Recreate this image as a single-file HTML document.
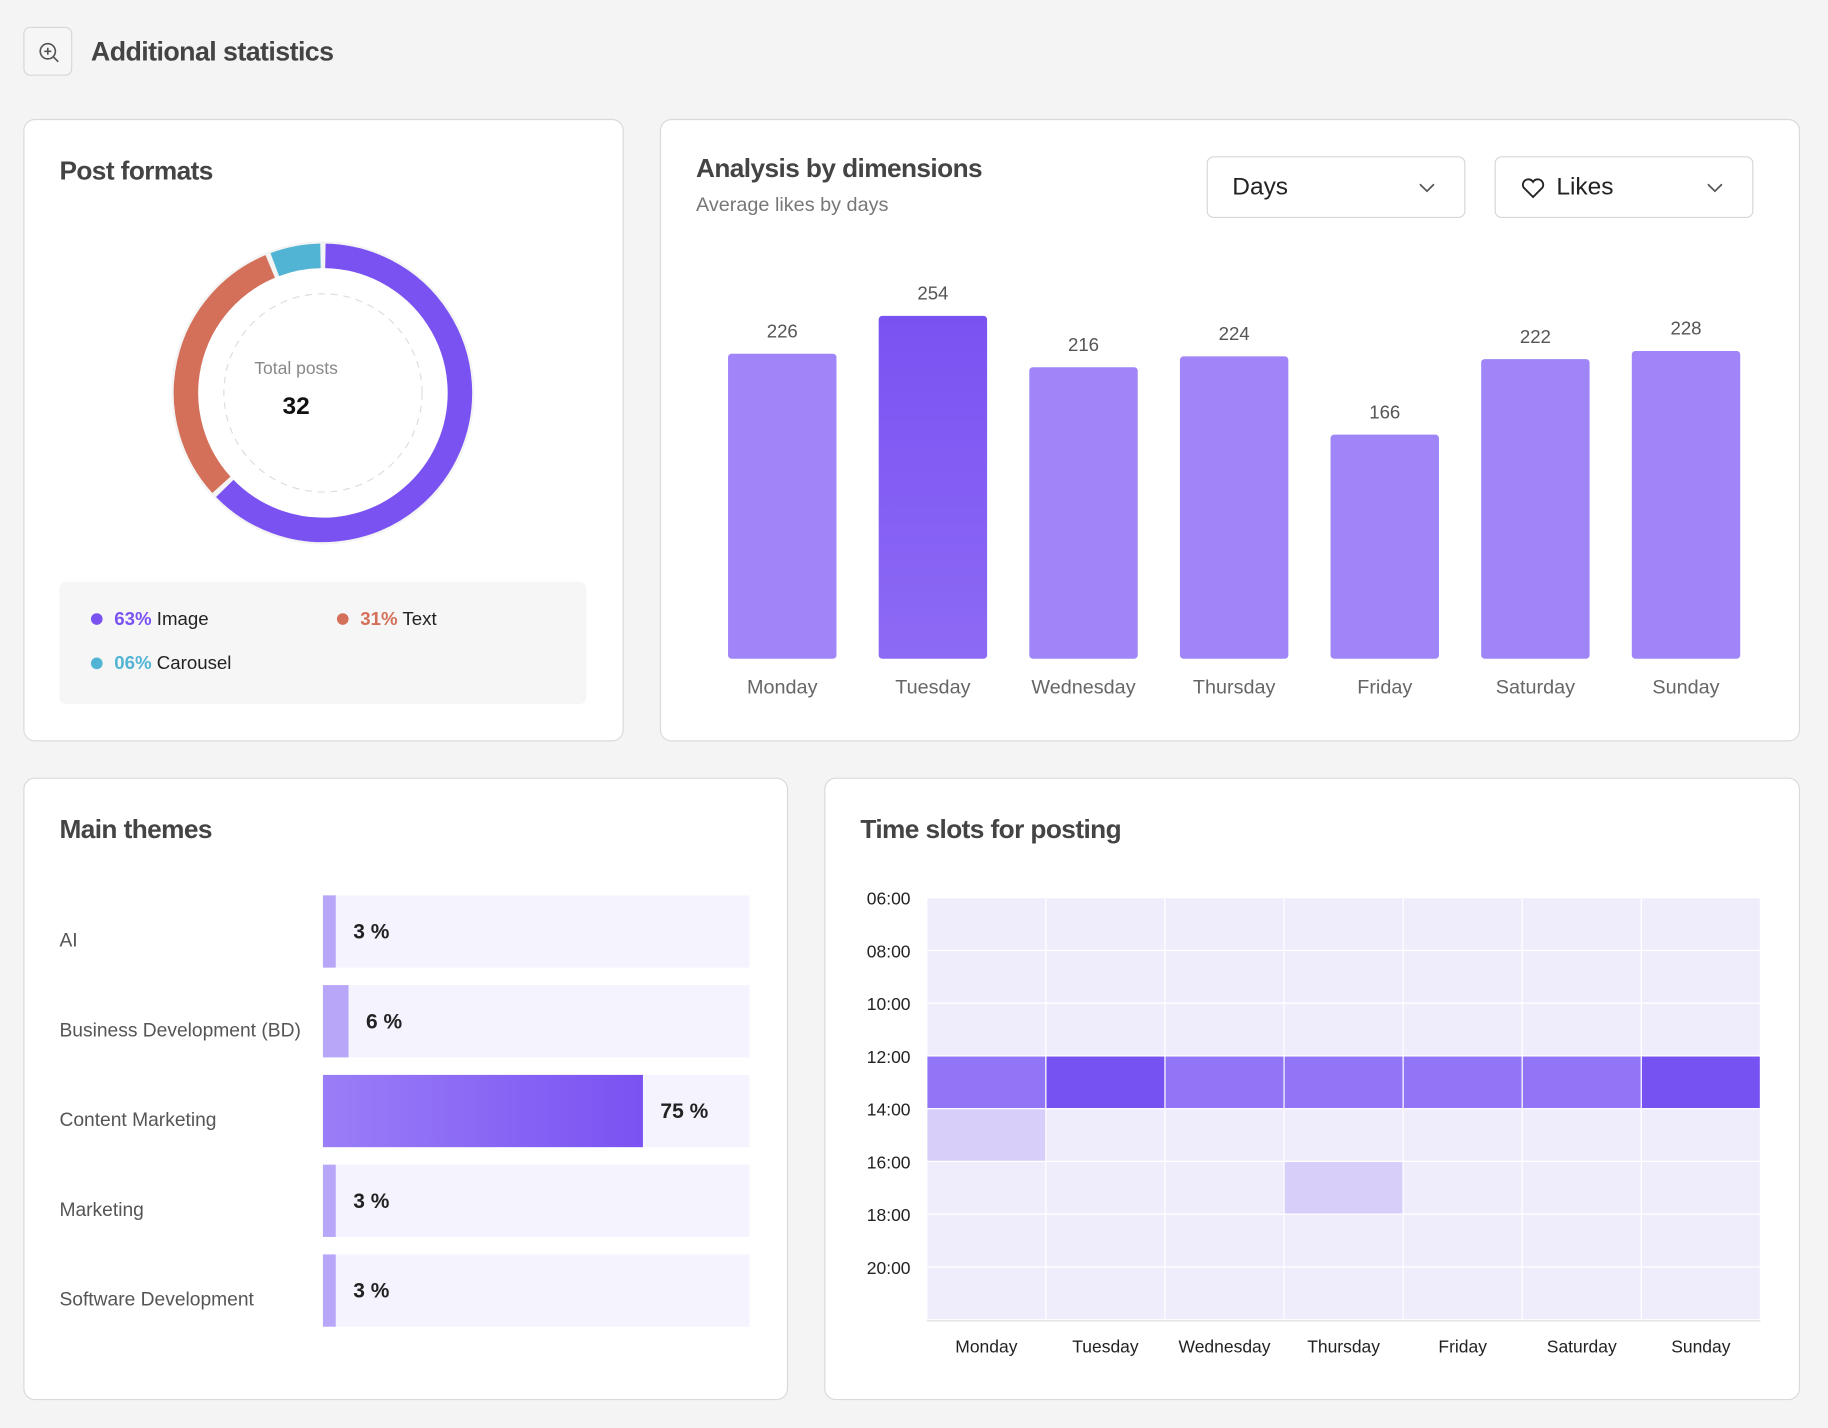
<!DOCTYPE html>
<html><head><meta charset="utf-8"><style>
html,body{margin:0;padding:0;width:1828px;height:1428px;overflow:hidden;background:#f3f4f3;font-family:"Liberation Sans",sans-serif;}
#root{position:absolute;left:0;top:0;width:1568px;height:1225px;transform:scale(1.16582);transform-origin:0 0;}
.card{position:absolute;background:#fff;border:1px solid #d9dad9;border-radius:10px;box-sizing:border-box;}
.h{position:absolute;font-weight:bold;font-size:22.5px;color:#444;letter-spacing:-0.5px;}
svg{position:absolute;left:0;top:0;}
.dd{position:absolute;border:1px solid #d6d6d6;border-radius:6px;box-sizing:border-box;font-size:21px;color:#222;}
</style></head><body>
<div id="root">
<div style="position:absolute;left:20px;top:23px;width:42px;height:42px;border:1px solid #d6d6d6;border-radius:6px;box-sizing:border-box;background:#f6f6f6">
<svg width="42" height="42" viewBox="0 0 42 42"><circle cx="20" cy="20" r="6.5" fill="none" stroke="#555" stroke-width="1.4"/><path d="M20 17v6M17 20h6M25 25l4 4" stroke="#555" stroke-width="1.4"/></svg></div>
<div class="h" style="left:78px;top:31px;font-size:23px">Additional statistics</div>

<div class="card" style="left:20px;top:102px;width:515px;height:534px"></div>
<div class="h" style="left:51px;top:134px">Post formats</div>
<svg id="donut" width="1568" height="1225"></svg>
<div style="position:absolute;left:204px;top:308px;width:100px;text-align:center;font-size:15px;color:#888">Total posts</div>
<div style="position:absolute;left:204px;top:337px;width:100px;text-align:center;font-size:21px;font-weight:bold;color:#111">32</div>
<div style="position:absolute;left:51px;top:499px;width:452px;height:105px;background:#f6f6f6;border-radius:6px;font-size:16px;color:#222">
<div style="position:absolute;left:27px;top:24px"><span style="display:inline-block;width:10px;height:10px;border-radius:5px;background:#7b52f2;margin-right:10px"></span><b style="color:#7b52f2;font-weight:bold">63%</b> Image</div>
<div style="position:absolute;left:238px;top:24px"><span style="display:inline-block;width:10px;height:10px;border-radius:5px;background:#d4705a;margin-right:10px"></span><b style="color:#d4705a">31%</b> Text</div>
<div style="position:absolute;left:27px;top:62px"><span style="display:inline-block;width:10px;height:10px;border-radius:5px;background:#52b4d4;margin-right:10px"></span><b style="color:#52b4d4">06%</b> Carousel</div>
</div>

<div class="card" style="left:566px;top:102px;width:978px;height:534px"></div>
<div class="h" style="left:597px;top:132px">Analysis by dimensions</div>
<div style="position:absolute;left:597px;top:166px;font-size:17px;color:#777">Average likes by days</div>
<div class="dd" style="left:1035px;top:134px;width:222px;height:53px"><span style="position:absolute;left:21px;top:14px">Days</span><svg width="222" height="53"><path d="M182 23l6 6 6-6" fill="none" stroke="#555" stroke-width="1.5"/></svg></div>
<div class="dd" style="left:1282px;top:134px;width:222px;height:53px"><svg width="222" height="53"><path d="M32 34l-8-8a4.5 4.5 0 0 1 8-5a4.5 4.5 0 0 1 8 5z" fill="none" stroke="#222" stroke-width="1.6"/><path d="M182 23l6 6 6-6" fill="none" stroke="#555" stroke-width="1.5"/></svg><span style="position:absolute;left:52px;top:14px">Likes</span></div>
<svg id="bars" width="1568" height="1225"></svg>

<div class="card" style="left:20px;top:667px;width:656px;height:534px"></div>
<div class="h" style="left:51px;top:699px">Main themes</div>
<svg id="themes" width="1568" height="1225"></svg>

<div class="card" style="left:707px;top:667px;width:837px;height:534px"></div>
<div class="h" style="left:738px;top:699px">Time slots for posting</div>
<svg id="heat" width="1568" height="1225"></svg>
</div>
<script>
const NS="http://www.w3.org/2000/svg";
function mk(p,t,a){const e=document.createElementNS(NS,t);for(const k in a)e.setAttribute(k,a[k]);p.appendChild(e);return e;}

// donut data
const formatNames=["Image","Text","Carousel"];
const formatValues=[63,31,6];
const formatColors=["#7b52f2","#d4705a","#52b4d4"];
// bar data
const days=["Monday","Tuesday","Wednesday","Thursday","Friday","Saturday","Sunday"];
const likes=[226,254,216,224,166,222,228];
// themes data
const themes=["AI","Business Development (BD)","Content Marketing","Marketing","Software Development"];
const themeValues=[3,6,75,3,3];
// heatmap data
const hours=["06:00","08:00","10:00","12:00","14:00","16:00","18:00","20:00"];
const heatValues=[
[0,0,0,0,0,0,0],
[0,0,0,0,0,0,0],
[0,0,0,0,0,0,0],
[2,3,2,2,2,2,3],
[1,0,0,0,0,0,0],
[0,0,0,1,0,0,0],
[0,0,0,0,0,0,0],
[0,0,0,0,0,0,0]];

// donut
(function(){
const s=document.getElementById('donut');
const cx=277,cy=337,r=117.5,w=21;
mk(s,'circle',{cx,cy,r:130,fill:'#f3f4f3'});
mk(s,'circle',{cx,cy,r:107,fill:'#fff'});
mk(s,'circle',{cx,cy,r:85,fill:'none',stroke:'#ddd','stroke-dasharray':'6 5'});
const tot=formatValues.reduce((a,b)=>a+b,0);
let a0=0;
formatValues.forEach((v,i)=>{
 const a1=a0+v/tot*2*Math.PI, g=0.018;
 const s0=a0+g,s1=a1-g;
 const x0=cx+r*Math.sin(s0),y0=cy-r*Math.cos(s0),x1=cx+r*Math.sin(s1),y1=cy-r*Math.cos(s1);
 const p=mk(s,'path',{d:`M${x0} ${y0}A${r} ${r} 0 ${s1-s0>Math.PI?1:0} 1 ${x1} ${y1}`,fill:'none',stroke:formatColors[i],'stroke-width':w});
 
 
 a0=a1;
});
})();

// bars
(function(){
const s=document.getElementById('bars');
const base=565, k=294/254, x0=671, step=129.2, bw=93;
const y=v=>base-v*k, x=i=>x0+i*step;
const max=Math.max(...likes);
const defs=mk(s,'defs',{});
const g=mk(defs,'linearGradient',{id:'bg1',x1:0,y1:0,x2:0,y2:1});
mk(g,'stop',{offset:0,'stop-color':'#7a52f2'});mk(g,'stop',{offset:1,'stop-color':'#8d6af5'});
likes.forEach((v,i)=>{
 const b=mk(s,'rect',{x:x(i)-bw/2,y:y(v),width:bw,height:base-y(v),rx:3,fill:v===max?'url(#bg1)':'#9f85f7'});
 
 
 const t=mk(s,'text',{x:x(i),y:y(v)-14,'text-anchor':'middle','font-size':16,fill:'#555'});t.textContent=v;
 
 
 const l=mk(s,'text',{x:x(i),y:595,'text-anchor':'middle','font-size':17,fill:'#666'});l.textContent=days[i];
 
 
});
})();

// themes
(function(){
const s=document.getElementById('themes');
const x0=277,W=366,h=62,y0=768,step=77;
const defs=mk(s,'defs',{});
const g=mk(defs,'linearGradient',{id:'tg',x1:0,y1:0,x2:1,y2:0});
mk(g,'stop',{offset:0,'stop-color':'#9a7ef7'});mk(g,'stop',{offset:1,'stop-color':'#7a52f2'});
themes.forEach((n,i)=>{
 const y=y0+i*step, v=themeValues[i], w=W*v/100;
 mk(s,'rect',{x:x0,y,width:W,height:h,fill:'#f5f3fe'});
 const b=mk(s,'rect',{x:x0,y,width:w,height:h,fill:v>20?'url(#tg)':'#b8a6f9'});
 
 
 const t=mk(s,'text',{x:x0+w+15,y:y+37,'font-size':18,'font-weight':'bold',fill:'#222'});t.textContent=v+' %';
 
 
 const l=mk(s,'text',{x:51,y:y+44,'font-size':16.5,fill:'#555'});l.textContent=n;
 
 
});
})();

// heatmap
(function(){
const s=document.getElementById('heat');
const L=795,R=1510,T=770,B=1132;
const cw=(R-L)/days.length, ch=(B-T)/hours.length;
const cols=['#efedfc','#d8cefa','#9175f6','#7752f2'];
heatValues.forEach((row,r)=>row.forEach((v,c)=>{
 const e=mk(s,'rect',{x:L+c*cw,y:T+r*ch,width:cw,height:ch,fill:cols[v],stroke:'#fff','stroke-width':1});
 
 
}));
mk(s,'line',{x1:L,y1:B+1,x2:R,y2:B+1,stroke:'#ddd'});
hours.forEach((h,r)=>{
 const t=mk(s,'text',{x:781,y:T+r*ch+6,'text-anchor':'end','font-size':15,fill:'#222'});t.textContent=h;
 
 
});
days.forEach((d,c)=>{
 const t=mk(s,'text',{x:L+(c+.5)*cw,y:1160,'text-anchor':'middle','font-size':15,fill:'#222'});t.textContent=d;
 
 
});
})();
</script>
</body></html>
